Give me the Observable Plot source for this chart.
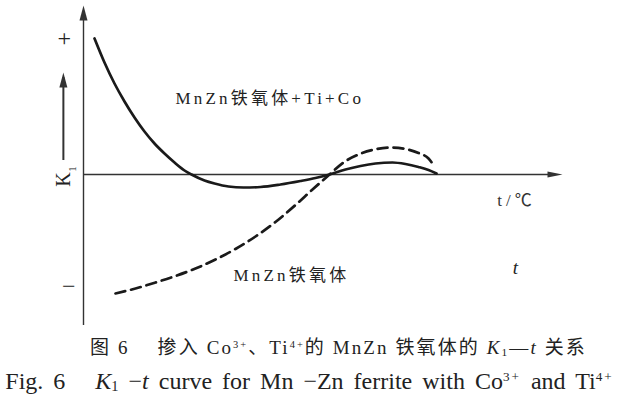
<!DOCTYPE html>
<html>
<head>
<meta charset="utf-8">
<script src="https://cdn.jsdelivr.net/npm/d3@7"></script>
<script src="https://cdn.jsdelivr.net/npm/@observablehq/plot@0.6"></script>
<style>
  html, body { margin: 0; padding: 0; background: #fff; }
  #chart { width: 619px; height: 330px; }
  .cap {
    width: 619px;
    font-family: "Liberation Serif", "Noto Sans CJK SC", serif;
    color: #222;
    text-align: center;
    white-space: nowrap;
    line-height: 30px;
    box-sizing: border-box;
  }
  #cap1 { padding-top: 3px; font-size: 19px; letter-spacing: 2.1px; padding-left: 58px; }
  #cap2 { font-size: 24px; word-spacing: 4px; }
  sup { font-size: 55%; vertical-align: 0; position: relative; top: -0.6em; letter-spacing: 2px; }
  sub { font-size: 60%; vertical-align: 0; position: relative; top: 0.15em; }
</style>
</head>
<body>
<div id="chart"></div>
<div class="cap" id="cap1">图 6　 掺入 Co<sup>3+</sup>、Ti<sup>4+</sup>的 MnZn 铁氧体的 <i>K</i><sub>1</sub>—<i>t</i> 关系</div>
<div class="cap" id="cap2">Fig. 6&nbsp;&nbsp; <i>K</i><sub>1</sub> −<i>t</i> curve for Mn −Zn ferrite with Co<sup>3+</sup> and Ti<sup>4+</sup></div>
<script>
// ---- data (t and K1 in arbitrary units; the chart shows only the sign of K1) ----
const tSolid = [2.30, 4.38, 6.47, 8.56, 10.65, 12.73, 14.82, 16.91, 19.00, 21.09, 22.55, 25.26, 27.35, 30.27,
                33.40, 36.95, 41.13, 45.30, 48.43, 51.36, 54.70, 57.83, 60.96, 64.51, 67.22, 69.94, 72.03, 73.70];
const kSolid = [1.36, 1.12, 0.91, 0.73, 0.57, 0.43, 0.31, 0.21, 0.12, 0.04, 0.0, -0.06, -0.09, -0.12,
                -0.13, -0.125, -0.10, -0.065, -0.035, 0.0, 0.05, 0.085, 0.11, 0.12, 0.105, 0.075, 0.045, 0.01];
const tDashed = [6.68, 10.86, 15.03, 19.21, 23.38, 27.56, 31.73, 35.91, 40.08, 44.26, 47.81, 51.36,
                 54.28, 57.41, 60.75, 64.09, 67.22, 69.94, 72.03, 73.28];
const kDashed = [-1.19, -1.14, -1.08, -1.015, -0.94, -0.85, -0.745, -0.62, -0.475, -0.305, -0.15, 0.0,
                 0.12, 0.20, 0.25, 0.27, 0.255, 0.215, 0.16, 0.08];
const tAxis = [0, 100];
const kAxis = [-1.51, 1.69];
const signTicks = ["+", "−"];
const signT = [-4.0, -3.1];
const signK = [1.36, -1.12];
const kArrowK = [0.14, 1.02];
const seriesLabels = ["MnZn铁氧体+Ti+Co", "MnZn铁氧体"];
const seriesLabelT = [19.2, 31.3];
const seriesLabelK = [0.76, -1.01];
const axisTitleX = "t/℃";
const axisTitleY = "K";

const solid = tSolid.map((t, i) => ({t, k: kSolid[i]}));
const dashed = tDashed.map((t, i) => ({t, k: kDashed[i]}));
const labels = seriesLabels.map((s, i) => ({s, t: seriesLabelT[i], k: seriesLabelK[i]}));
const signs = signTicks.map((s, i) => ({s, t: signT[i], k: signK[i]}));

// narrow filled triangle arrowhead, tip at origin, pointing up
const arrowHead = (len, half) => ({
  draw(ctx) {
    ctx.moveTo(0, 0);
    ctx.lineTo(half, len);
    ctx.lineTo(-half, len);
    ctx.closePath();
  }
});

const ink = "#222";
const serif = "'Liberation Serif', 'Noto Sans CJK SC', serif";

const chart = Plot.plot({
  width: 619,
  height: 330,
  marginLeft: 83,
  marginRight: 57,
  marginTop: 5,
  marginBottom: 5,
  x: {domain: tAxis, axis: null},
  y: {domain: kAxis, axis: null},
  style: {color: ink, background: "#fff"},
  marks: [
    // axes
    Plot.ruleY([0], {x1: tAxis[0], x2: tAxis[1] - 2, stroke: "#333", strokeWidth: 1.4}),
    Plot.ruleX([0], {y1: kAxis[0], y2: kAxis[1] - 0.05, stroke: "#333", strokeWidth: 1.4}),
    Plot.dot([{t: tAxis[1], k: 0}], {x: "t", y: "k", symbol: arrowHead(15, 3), rotate: 90, fill: "#333", stroke: "none", r: 5}),
    Plot.dot([{t: 0, k: kAxis[1]}], {x: "t", y: "k", symbol: arrowHead(15, 4), fill: "#333", stroke: "none", r: 5}),
    // K1 arrow
    Plot.ruleX([-4.2], {y1: kArrowK[0], y2: kArrowK[1] - 0.05, stroke: "#333", strokeWidth: 2}),
    Plot.dot([{t: -4.2, k: kArrowK[1]}], {x: "t", y: "k", symbol: arrowHead(15, 4), fill: "#333", stroke: "none", r: 5}),
    Plot.text([axisTitleY], {x: -4.2, y: -0.05, text: d => d, rotate: -90, fontSize: 20, fill: ink}),
    Plot.text(["1"], {x: -2.4, y: 0.055, text: d => d, rotate: -90, fontSize: 11, fill: ink}),
    // sign ticks
    Plot.text(signs, {x: "t", y: "k", text: "s", fontSize: 24, fill: ink}),
    // curves
    Plot.line(solid, {x: "t", y: "k", curve: "monotone-x", stroke: "#1a1a1a", strokeWidth: 2.7}),
    Plot.line(dashed, {x: "t", y: "k", curve: "monotone-x", stroke: "#1a1a1a", strokeWidth: 2.7, strokeDasharray: "10,6"}),
    // labels
    Plot.text(labels, {x: "t", y: "k", text: "s", textAnchor: "start", fontSize: 17, fill: ink}),
    Plot.text([axisTitleX], {x: 86.4, y: -0.26, text: d => d, textAnchor: "start", fontSize: 17, fill: "#333"}),
    Plot.text(["t"], {x: 89.6, y: -0.93, text: d => d, textAnchor: "start", fontSize: 19, fontStyle: "italic", fill: ink})
  ]
});
document.getElementById("chart").appendChild(chart);

// typography: serif faces and the spaced-out lettering of the original
const svg = d3.select(chart);
svg.selectAll("text").style("font-family", serif);
svg.selectAll("text").filter(function () { return seriesLabels.includes(this.textContent); })
  .style("letter-spacing", "3.2px");
svg.selectAll("text").filter(function () { return this.textContent === axisTitleX; })
  .style("letter-spacing", "4px");
</script>
</body>
</html>
